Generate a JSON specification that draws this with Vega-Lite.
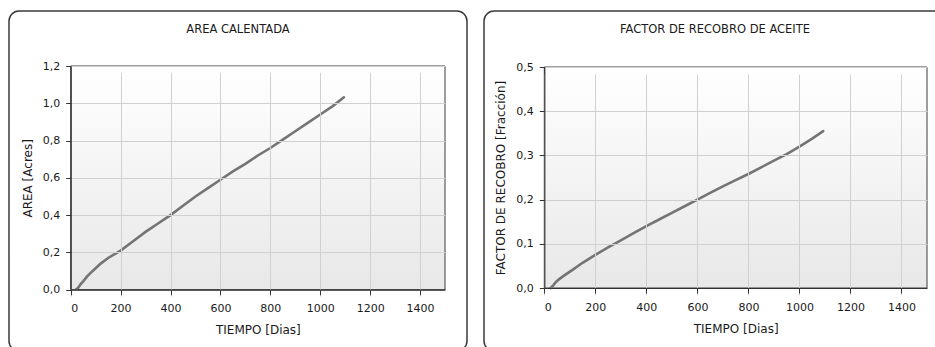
{
  "$schema": "https://vega.github.io/schema/vega-lite/v6.json",
  "background": "white",
  "padding": {"left": 8, "top": 10, "right": 0, "bottom": 0},
  "config": {
    "font": "DejaVu Sans",
    "view": {"stroke": "#3a3a3a", "strokeWidth": 1.5, "cornerRadius": 10},
    "concat": {"spacing": 15},
    "axis": {
      "labelFont": "DejaVu Sans", "labelFontSize": 11, "labelColor": "#1a1a1a",
      "titleFont": "DejaVu Sans", "titleFontSize": 12, "titleFontWeight": "normal", "titleColor": "#1a1a1a",
      "domainColor": "#333333", "domainWidth": 1.2, "tickColor": "#333333", "tickSize": 5,
      "grid": true, "gridColor": "#d0d0d0", "gridWidth": 1, "zindex": 1
    },
    "title": {"font": "DejaVu Sans", "fontSize": 11.5, "fontWeight": "normal", "color": "#1a1a1a", "anchor": "middle"}
  },
  "datasets": {
    "area": [
      {"dias": 20, "valor": 0}, {"dias": 30, "valor": 0.01}, {"dias": 40, "valor": 0.03}, {"dias": 50, "valor": 0.045},
      {"dias": 65, "valor": 0.07}, {"dias": 80, "valor": 0.09}, {"dias": 100, "valor": 0.115}, {"dias": 120, "valor": 0.14},
      {"dias": 150, "valor": 0.17}, {"dias": 200, "valor": 0.21}, {"dias": 250, "valor": 0.26}, {"dias": 300, "valor": 0.31},
      {"dias": 350, "valor": 0.355}, {"dias": 400, "valor": 0.40}, {"dias": 450, "valor": 0.45}, {"dias": 500, "valor": 0.50},
      {"dias": 550, "valor": 0.545}, {"dias": 600, "valor": 0.59}, {"dias": 650, "valor": 0.635}, {"dias": 700, "valor": 0.675},
      {"dias": 750, "valor": 0.72}, {"dias": 800, "valor": 0.76}, {"dias": 850, "valor": 0.805}, {"dias": 900, "valor": 0.85},
      {"dias": 950, "valor": 0.895}, {"dias": 1000, "valor": 0.94}, {"dias": 1050, "valor": 0.985}, {"dias": 1095, "valor": 1.032}
    ],
    "recobro": [
      {"dias": 25, "valor": 0}, {"dias": 35, "valor": 0.006}, {"dias": 45, "valor": 0.013}, {"dias": 56, "valor": 0.019},
      {"dias": 80, "valor": 0.029}, {"dias": 108, "valor": 0.04}, {"dias": 150, "valor": 0.057}, {"dias": 200, "valor": 0.075},
      {"dias": 250, "valor": 0.092}, {"dias": 300, "valor": 0.108}, {"dias": 350, "valor": 0.124}, {"dias": 400, "valor": 0.14},
      {"dias": 450, "valor": 0.155}, {"dias": 500, "valor": 0.17}, {"dias": 550, "valor": 0.185}, {"dias": 600, "valor": 0.2},
      {"dias": 650, "valor": 0.215}, {"dias": 700, "valor": 0.23}, {"dias": 750, "valor": 0.244}, {"dias": 800, "valor": 0.258},
      {"dias": 850, "valor": 0.273}, {"dias": 900, "valor": 0.288}, {"dias": 950, "valor": 0.303}, {"dias": 1000, "valor": 0.32},
      {"dias": 1050, "valor": 0.338}, {"dias": 1093, "valor": 0.355}
    ]
  },
  "hconcat": [
    {
      "width": 458,
      "height": 340,
      "title": {"text": "AREA CALENTADA", "offset": -24},
      "layer": [
        {
          "data": {"values": [{}]},
          "mark": {
            "type": "rect",
            "stroke": "#3c3c3c",
            "strokeWidth": 1,
            "fill": {"gradient": "linear", "x1": 0, "y1": 0, "x2": 0, "y2": 1,
              "stops": [{"offset": 0, "color": "#ffffff"}, {"offset": 1, "color": "#e8e8e8"}]}
          },
          "encoding": {
            "x": {"datum": 0, "type": "quantitative",
              "scale": {"domain": [0, 1500], "range": [61.7, 436], "nice": false, "zero": false},
              "axis": {"title": "TIEMPO [Dias]", "offset": -61.3, "values": [0, 200, 400, 600, 800, 1000, 1200, 1400],
                "format": "d", "labelPadding": 8, "titlePadding": 11, "grid": true, "zindex": 1}},
            "x2": {"datum": 1500},
            "y": {"datum": 0, "type": "quantitative",
              "scale": {"domain": [0, 1.2], "range": [278.7, 55], "nice": false, "zero": false},
              "axis": {"title": "AREA [Acres]", "offset": -61.7, "values": [0, 0.2, 0.4, 0.6, 0.8, 1.0, 1.2],
                "labelExpr": "replace(format(datum.value, '.1f'), '.', ',')", "labelPadding": 6, "titlePadding": 8, "grid": true, "zindex": 1}},
            "y2": {"datum": 1.2}
          }
        },
        {
          "data": {"name": "area"},
          "mark": {"type": "line", "color": "#747474", "strokeWidth": 2.6, "strokeCap": "round"},
          "encoding": {
            "x": {"field": "dias", "type": "quantitative"},
            "y": {"field": "valor", "type": "quantitative"}
          }
        }
      ]
    },
    {
      "width": 462,
      "height": 340,
      "title": {"text": "FACTOR DE RECOBRO DE ACEITE", "offset": -24},
      "layer": [
        {
          "data": {"values": [{}]},
          "mark": {
            "type": "rect",
            "stroke": "#3c3c3c",
            "strokeWidth": 1,
            "fill": {"gradient": "linear", "x1": 0, "y1": 0, "x2": 0, "y2": 1,
              "stops": [{"offset": 0, "color": "#ffffff"}, {"offset": 1, "color": "#e8e8e8"}]}
          },
          "encoding": {
            "x": {"datum": 0, "type": "quantitative",
              "scale": {"domain": [0, 1500], "range": [60.3, 443], "nice": false, "zero": false},
              "axis": {"title": "TIEMPO [Dias]", "offset": -63, "values": [0, 200, 400, 600, 800, 1000, 1200, 1400],
                "format": "d", "labelPadding": 8, "titlePadding": 11, "grid": true, "zindex": 1}},
            "x2": {"datum": 1500},
            "y": {"datum": 0, "type": "quantitative",
              "scale": {"domain": [0, 0.5], "range": [277, 56], "nice": false, "zero": false},
              "axis": {"title": "FACTOR DE RECOBRO [Fracción]", "offset": -60.3, "values": [0, 0.1, 0.2, 0.3, 0.4, 0.5],
                "labelExpr": "replace(format(datum.value, '.1f'), '.', ',')", "labelPadding": 6, "titlePadding": 8, "grid": true, "zindex": 1}},
            "y2": {"datum": 0.5}
          }
        },
        {
          "data": {"name": "recobro"},
          "mark": {"type": "line", "color": "#747474", "strokeWidth": 2.6, "strokeCap": "round"},
          "encoding": {
            "x": {"field": "dias", "type": "quantitative"},
            "y": {"field": "valor", "type": "quantitative"}
          }
        }
      ]
    }
  ]
}
